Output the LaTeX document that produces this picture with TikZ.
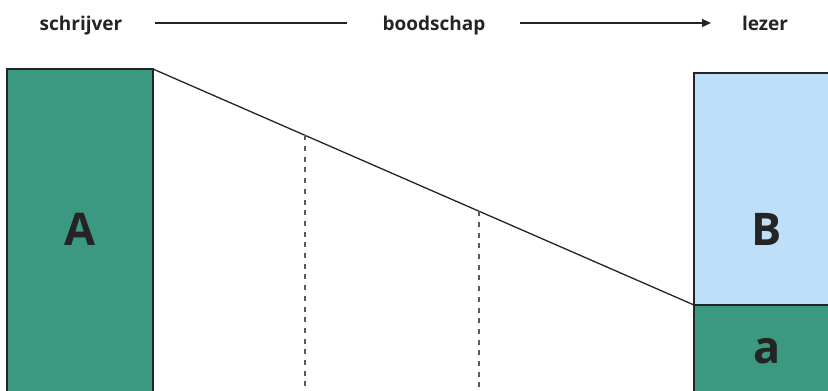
\documentclass[tikz,border=0pt]{standalone}
\usepackage{fontspec}
\setmainfont{Open Sans}
\usetikzlibrary{arrows.meta,calc}
\definecolor{tealgreen}{RGB}{59,153,130}
\definecolor{paleblue}{RGB}{189,223,247}
\definecolor{inkgray}{RGB}{36,36,36}
\tikzset{
  role/.style={font=\bfseries\fontsize{19}{22}\selectfont, text=inkgray, inner sep=0pt, anchor=base},
  big/.style={font=\bfseries\fontsize{45}{50}\selectfont, text=inkgray, inner sep=0pt, anchor=base},
  block/.style={draw=inkgray, line width=1.3pt},
  flow/.style={draw=inkgray, line width=1.3pt},
  guide/.style={draw=inkgray!75, line width=1.3pt, dash pattern=on 5pt off 5.7pt},
}
\begin{document}
\begin{tikzpicture}[x=1pt,y=-1pt]
\useasboundingbox (0,0) rectangle (828,391);
\begin{scope}
\clip (0,0) rectangle (828,391);
% sender block
\path[block, fill=tealgreen] (7,69) rectangle (153,400);
% receiver blocks
\path[block, fill=paleblue] (694,73) rectangle (840,305);
\path[block, fill=tealgreen] (694,305) rectangle (840,400);
\end{scope}
\coordinate (sa) at (153,69);
\coordinate (rb) at (694,305);
\draw[flow] (sa) -- (rb);
% dashed drop lines from the slope
\coordinate (d1) at ($(sa)!0.281!(rb)$);
\coordinate (d2) at ($(sa)!0.6026!(rb)$);
\coordinate (e1) at (d1 |- 0,391);
\coordinate (e2) at (d2 |- 0,391);
\draw[guide] (d1) -- (e1);
\draw[guide] (d2) -- (e2);
% labels along the top
\node[role] (schr) at (81,30) {schrijver};
\node[role] (bood) at (434,30) {boodschap};
\node[role] (lez) at (765,30) {lezer};
\coordinate (l1s) at (155,23);
\coordinate (l1e) at (347,23);
\coordinate (l2s) at (520,23);
\coordinate (l2e) at (711,23);
\draw[flow] (l1s) -- (l1e);
\draw[flow, -{Triangle[length=9pt,width=8pt]}] (l2s) -- (l2e);
% block letters
\node[big] (A) at (80,245) {A};
\node[big] (B) at (767,245) {B};
\node[big] (a) at (767,363) {a};
\end{tikzpicture}
\end{document}
